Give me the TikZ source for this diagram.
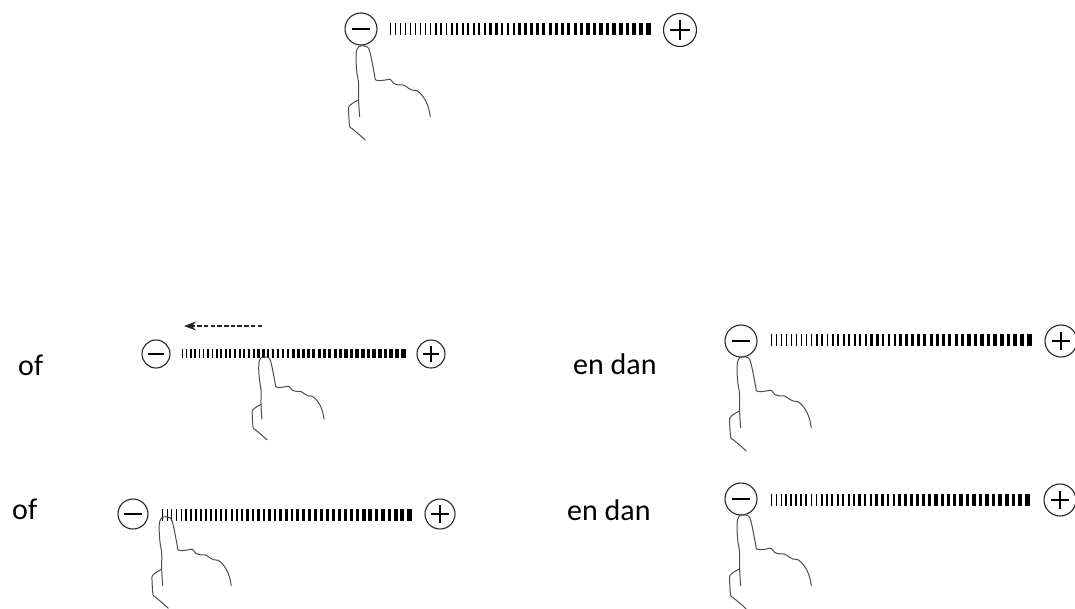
\documentclass[tikz,border=0pt]{standalone}
\usepackage{fontspec}
\setmainfont{Carlito}
\usetikzlibrary{arrows.meta}

% round button with a minus sign
\newcommand\minusbtn[4]{% name, x, y, diameter
  \node[btn=#4] (#1) at (#2,#3) {};
  \draw[sign] (#1.center) ++(-0.29*#4,0) -- ++(0.58*#4,0);
}
% round button with a plus sign
\newcommand\plusbtn[4]{% name, x, y, diameter
  \node[btn=#4] (#1) at (#2,#3) {};
  \draw[sign] (#1.center) ++(-0.29*#4,0) -- ++(0.58*#4,0);
  \draw[sign] (#1.center) ++(0,-0.29*#4) -- ++(0,0.58*#4);
}
% row of ticks growing wider from left to right
\newcommand\tickbar[4]{% x start, x end, y centre, height
  \foreach \i in {0,...,44}{
    \pgfmathsetmacro\tt{\i/44}
    \pgfmathsetmacro\xx{#1 + (#2-#1-5)*(\tt+0.215*\tt*\tt)/1.215}
    \pgfmathsetmacro\ww{ifthenelse(\i==44,5,1.1+2.9*\tt)}
    \fill[barfill] (\xx,#3-#4/2) rectangle ++(\ww,#4);
  }
}
% outline of a pointing hand, finger tip at the given point
\newcommand\hand[3]{% x, y, scale
  \begin{scope}[shift={(#1,#2)}, scale=#3]
    \draw[handline] plot[smooth, tension=0.55] coordinates {
      (-2.4,70.7) (-3.4,54) (-3.4,37.3) (-5,27.3) (-6,14) (-5.5,5) (-3,0.6)
      (1,-0.2) (4.8,0.6) (6.8,2.5) (9,10.7) (11.6,24) (13.3,33.6)};
    \draw[handline] plot[smooth, tension=0.55] coordinates {
      (13.3,33.6) (16.6,34.7) (23.3,34) (28.3,33.3) (31.6,37.3) (36.6,39)
      (41.6,39) (46.6,42.3) (50,44) (55,44.7) (58.3,47.3) (63.3,54)
      (66.6,62.3) (68.3,70.7)};
    \draw[handline] plot[smooth, tension=0.5] coordinates {
      (-3.6,54) (-9,57) (-13,60.5) (-13.4,65) (-12.4,80) (-10,82.5)
      (-4,87.5) (3.3,94)};
  \end{scope}
}

\begin{document}
\begin{tikzpicture}[x=1pt,y=-1pt,
  btn/.style={circle, draw=black!85, line width=1.1pt, minimum size=#1, inner sep=0pt},
  sign/.style={line width=1.5pt, draw=black},
  barfill/.style={fill=black},
  handline/.style={draw=black!70, line width=1pt, line cap=round, line join=round},
  lbl/.style={font=\fontsize{30}{36}\selectfont, anchor=base west, inner sep=0pt},
  swipe/.style={draw=black!85, line width=1.3pt, dash pattern=on 4.5pt off 2.2pt,
    -{Stealth[length=12pt,width=9pt]}}
]
\useasboundingbox (0,0) rectangle (1075,608);

% top: finger on the minus button
\minusbtn{m0}{361}{29}{32}
\tickbar{390}{651}{29}{12}
\plusbtn{p0}{680}{30}{33}
\hand{362}{46}{1}

% second row, left: swipe along the ticks
\node[lbl] (of1) at (18,375) {of};
\minusbtn{m1}{156}{354}{28}
\tickbar{182}{406}{353.5}{9}
\plusbtn{p1}{431}{354}{28}
\coordinate (s0) at (262,326);
\coordinate (s1) at (184,326);
\draw[swipe] (s0) -- (s1);
\hand{264}{357}{0.88}

% second row, right
\node[lbl] (dan1) at (573,374) {en dan};
\minusbtn{m2}{741}{341}{32}
\tickbar{771}{1032}{340}{12}
\plusbtn{p2}{1061}{341}{32}
\hand{743}{357}{1}

% third row, left: finger on the first tick
\node[lbl] (of2) at (12,519) {of};
\minusbtn{m3}{133}{514}{30}
\tickbar{162}{412}{515}{12}
\plusbtn{p3}{440}{514}{30}
\hand{165}{517}{0.97}

% third row, right
\node[lbl] (dan2) at (567,520) {en dan};
\minusbtn{m4}{741}{499}{32}
\tickbar{771}{1030}{500}{12}
\plusbtn{p4}{1060}{500}{32}
\hand{743}{515}{1}
\end{tikzpicture}
\end{document}
